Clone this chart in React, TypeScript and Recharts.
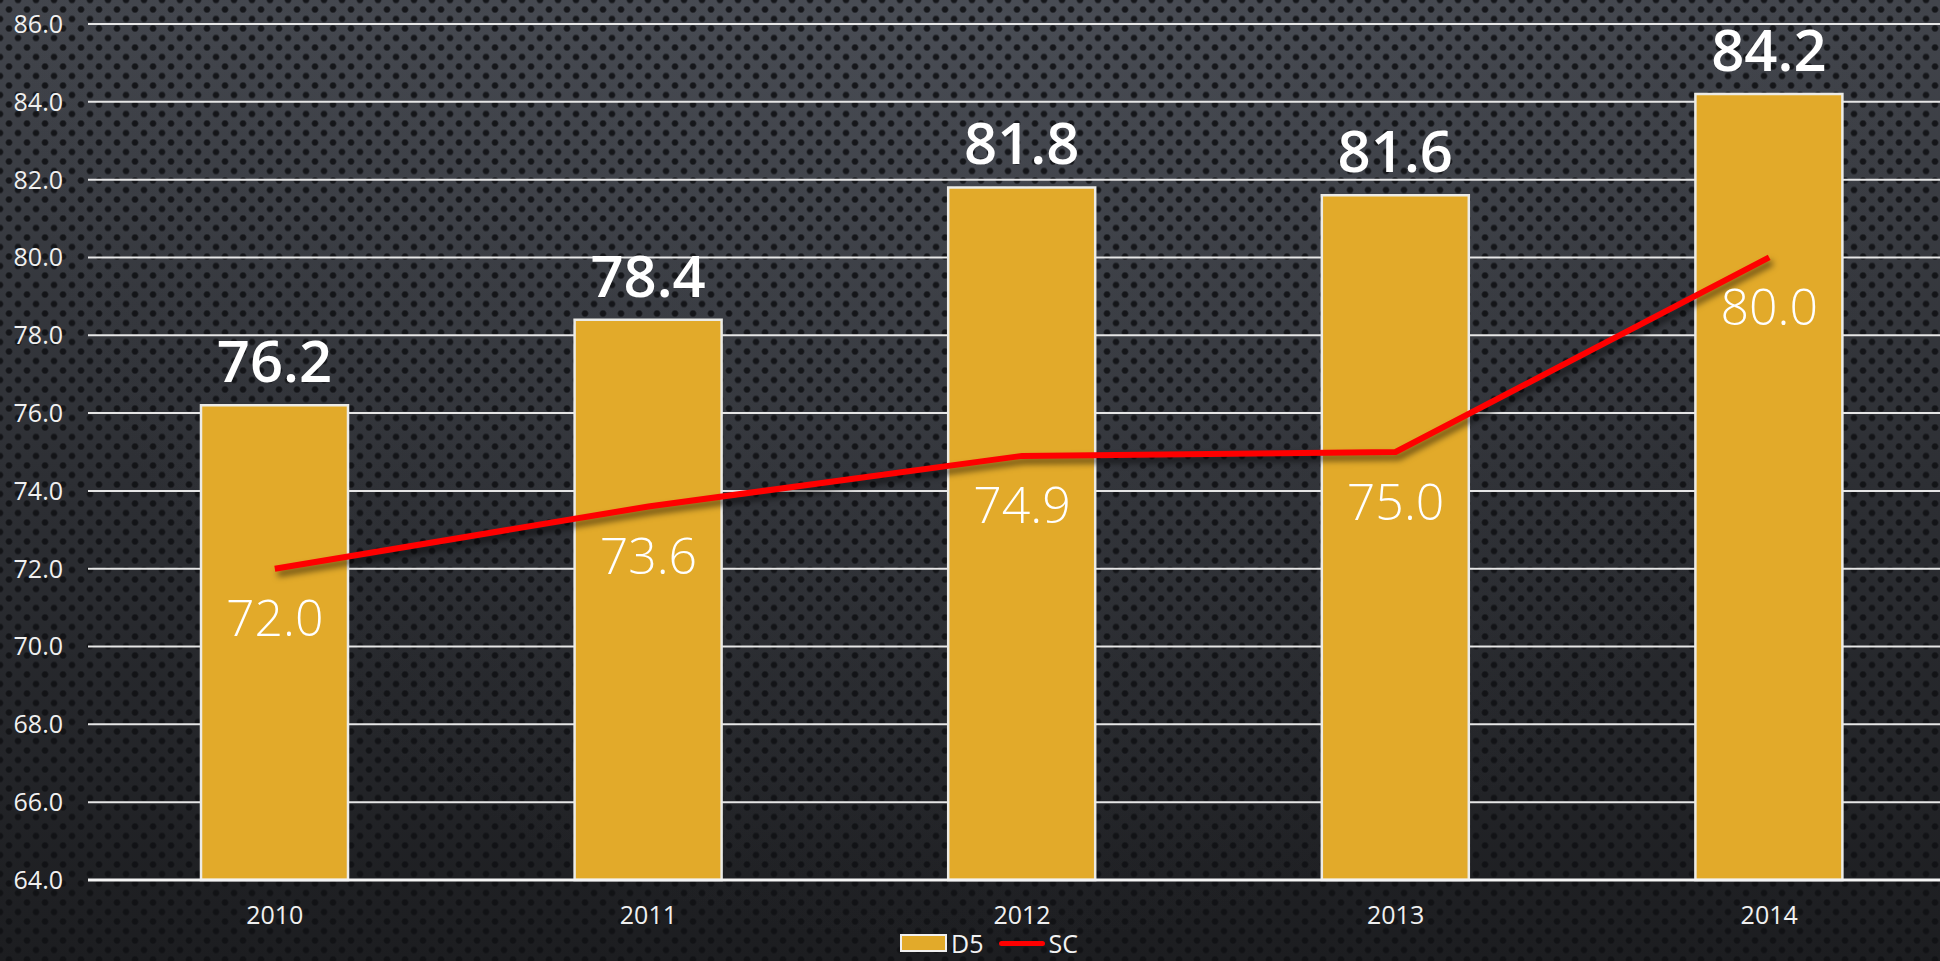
import React from 'react';
import {
  ComposedChart, Bar, Line, XAxis, YAxis, CartesianGrid, Legend, LabelList,
} from 'recharts';

const YEARS = ['2010', '2011', '2012', '2013', '2014'];
const D5 = [76.2, 78.4, 81.8, 81.6, 84.2];
const SC = [72.0, 73.6, 74.9, 75.0, 80.0];
const Y_TICKS = [64, 66, 68, 70, 72, 74, 76, 78, 80, 82, 84, 86];

const GOLD = '#e2aa2a';
const RED = '#ff0000';
const FONT = '"Open Sans", "DejaVu Sans", sans-serif';

const data = YEARS.map((year, i) => ({ year, D5: D5[i], SC: SC[i] }));

// perforated metal look: two staggered dot layers over a dark vertical gradient
const DOT = 'radial-gradient(circle, rgba(16,17,20,0.9) 2.4px, rgba(16,17,20,0) 4px)';
const BACKGROUND: React.CSSProperties = {
  position: 'absolute', left: 0, top: 0, width: 1940, height: 961, overflow: 'hidden',
  backgroundColor: '#2a2c30',
  backgroundImage: [
    DOT, DOT,
    'radial-gradient(ellipse at 50% 0%, rgba(90,95,105,0.3), rgba(0,0,0,0) 70%)',
    'linear-gradient(#42454c, #2d2f34 50%, #1c1d20)',
  ].join(','),
  backgroundSize: '18px 19px, 18px 19px, 100% 100%, 100% 100%',
  backgroundPosition: '0 0, 9px 9.5px, 0 0, 0 0',
};

function LegendContent() {
  const text: React.CSSProperties = { color: '#f2f2f2', fontSize: 25, fontFamily: FONT, lineHeight: '36px' };
  return (
    <div style={{ height: 36, display: 'flex', alignItems: 'center', justifyContent: 'center', paddingLeft: 22 }}>
      <span style={{ width: 43, height: 14, background: GOLD, border: '2px solid #f0f0f0', display: 'inline-block', marginRight: 4 }} />
      <span style={text}>D5</span>
      <span style={{ width: 46, height: 5, background: RED, borderRadius: 3, display: 'inline-block', marginLeft: 16, marginRight: 3 }} />
      <span style={text}>SC</span>
    </div>
  );
}

export default function App() {
  return (
    <div style={BACKGROUND}>
      <ComposedChart width={1956} height={961} data={data}
        margin={{ top: 24, right: 0, left: 0, bottom: 0 }} barCategoryGap={0}>
        <CartesianGrid vertical={false} stroke="#e6e6e6" strokeWidth={2} />
        <XAxis dataKey="year" height={45} tickSize={0} tickMargin={26}
          axisLine={{ stroke: '#f4f4f4', strokeWidth: 3 }} tickLine={false}
          tick={{ fill: '#f0f0f0', fontSize: 25, fontFamily: FONT }} />
        <YAxis width={88} domain={[64, 86]} ticks={Y_TICKS} tickSize={0} tickMargin={25}
          axisLine={false} tickLine={false} interval={0}
          tickFormatter={(v: number) => v.toFixed(1)}
          tick={{ fill: '#f0f0f0', fontSize: 25, fontFamily: FONT }} />
        <Legend verticalAlign="bottom" content={<LegendContent />} />
        <Bar dataKey="D5" fill={GOLD} stroke="#ecebe6" strokeWidth={2.5} barSize={147} isAnimationActive={false}>
          <LabelList dataKey="D5" position="top" offset={23}
            formatter={(v: any) => Number(v).toFixed(1)}
            style={{ fill: '#ffffff', fontSize: 58, fontWeight: 600, fontFamily: FONT }} />
        </Bar>
        <Line dataKey="SC" stroke={RED} strokeWidth={6} dot={false} isAnimationActive={false}
          style={{ filter: 'drop-shadow(3px 5px 3px rgba(0,0,0,0.55))' }}>
          <LabelList dataKey="SC" position="bottom" offset={32}
            formatter={(v: any) => Number(v).toFixed(1)}
            style={{ fill: '#ffffff', fontSize: 50, fontWeight: 300, fontFamily: FONT }} />
        </Line>
      </ComposedChart>
    </div>
  );
}
